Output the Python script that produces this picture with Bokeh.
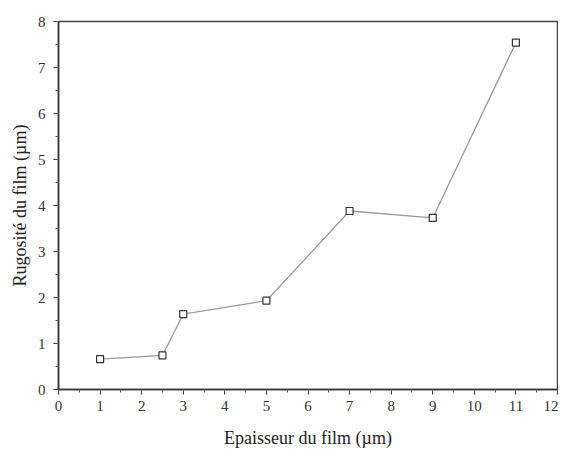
from bokeh.plotting import figure
from bokeh.embed import file_html
from bokeh.resources import INLINE
from bokeh.models import FixedTicker

thickness = [1, 2.5, 3, 5, 7, 9, 11]
roughness = [0.66, 0.74, 1.64, 1.93, 3.88, 3.73, 7.54]
x_ticks = list(range(0, 13))
y_ticks = list(range(0, 9))

p = figure(width=558, height=450, output_backend="svg", toolbar_location=None,
           x_range=(0, 12), y_range=(0, 8),
           min_border_left=58, min_border_right=1, min_border_top=21, min_border_bottom=57)

p.line(thickness, roughness, line_color="#9a9a9a", line_width=1.3)
p.scatter(thickness, roughness, marker="square", size=7, fill_color="white",
          line_color="#333333", line_width=1.2)

p.grid.visible = False
p.outline_line_color = "#444444"
p.outline_line_width = 1.5

font = "Liberation Serif"
for ax in (p.xaxis[0], p.yaxis[0]):
    ax.axis_line_color = "#333333"
    ax.axis_line_width = 1.5
    ax.major_tick_line_color = "#333333"
    ax.minor_tick_line_color = "#555555"
    ax.major_tick_out = 5
    ax.major_tick_in = 0
    ax.minor_tick_out = 3
    ax.minor_tick_in = 0
    ax.major_label_text_font = font
    ax.major_label_text_font_size = "15px"
    ax.major_label_text_color = "#333333"
    ax.axis_label_text_font = font
    ax.axis_label_text_font_size = "18px"
    ax.axis_label_text_font_style = "normal"
    ax.axis_label_text_color = "#222222"

p.xaxis[0].ticker = FixedTicker(ticks=x_ticks, minor_ticks=[i * 0.5 for i in range(25)])
p.yaxis[0].ticker = FixedTicker(ticks=y_ticks, minor_ticks=[i * 0.5 for i in range(17)])
p.xaxis[0].axis_label = "Epaisseur du film (µm)"
p.yaxis[0].axis_label = "Rugosité du film (µm)"
p.xaxis[0].major_label_standoff = 6
p.yaxis[0].major_label_standoff = 8
p.xaxis[0].axis_label_standoff = 14
p.yaxis[0].axis_label_standoff = 5

open("out.html", "w").write(file_html(p, INLINE))
